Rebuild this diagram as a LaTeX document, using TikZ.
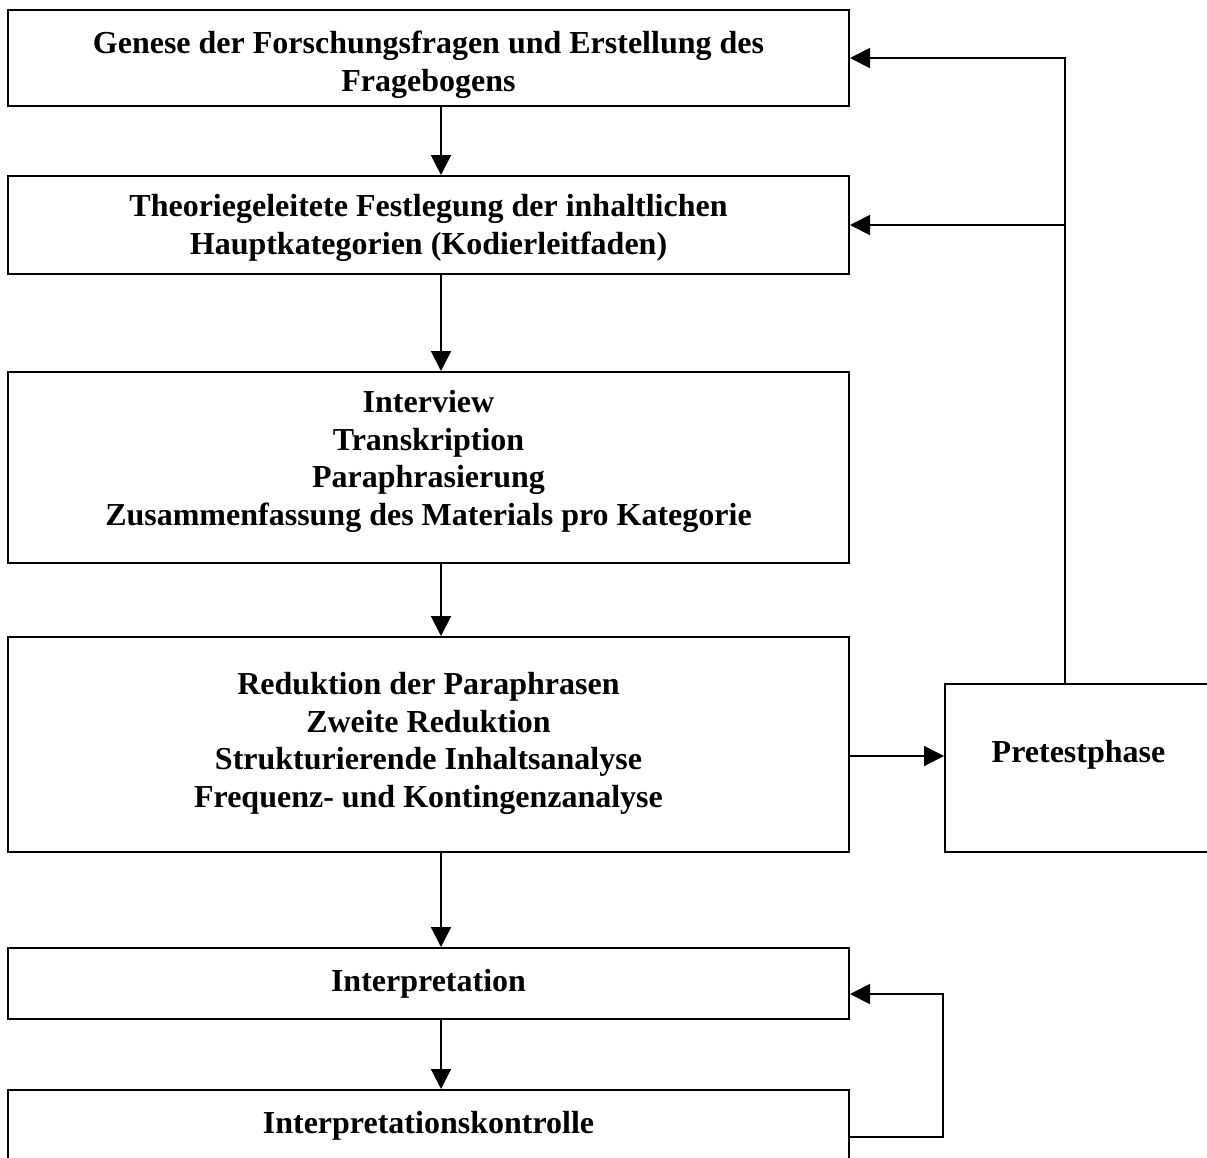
\documentclass[tikz,border=0pt]{standalone}
\usepackage{fontspec}
\setmainfont{Liberation Serif}
\usetikzlibrary{arrows.meta}
\tikzset{
  box/.style={draw=black, line width=2pt, rectangle, inner sep=0pt, align=center,
    font=\fontsize{32}{37.5}\selectfont\bfseries},
  arr/.style={draw=black, line width=2pt, -{Triangle[length=20pt,width=20pt]}}
}
\newcommand{\shifttxt}[2]{\raisebox{#1}[\height][\depth]{#2}}
\begin{document}
\begin{tikzpicture}[x=1pt,y=-1pt]
\clip (0,0) rectangle (1207,1157);
\fill[white] (0,0) rectangle (1207,1157);
\node[box, minimum width=841pt, minimum height=96pt] (b1) at (428.5,58)
  {\shifttxt{-7pt}{\begin{tabular}{@{}c@{}}Genese der Forschungsfragen und Erstellung des\\Fragebogens\end{tabular}}};
\node[box, minimum width=841pt, minimum height=98pt] (b2) at (428.5,225)
  {\shifttxt{-3pt}{\begin{tabular}{@{}c@{}}Theoriegeleitete Festlegung der inhaltlichen\\[1pt]Hauptkategorien (Kodierleitfaden)\end{tabular}}};
\node[box, minimum width=841pt, minimum height=191pt] (b3) at (428.5,467.5)
  {\shifttxt{6pt}{\begin{tabular}{@{}c@{}}Interview\\Transkription\\Paraphrasierung\\Zusammenfassung des Materials pro Kategorie\end{tabular}}};
\node[box, minimum width=841pt, minimum height=215pt] (b4) at (428.5,744.5)
  {\shifttxt{1pt}{\begin{tabular}{@{}c@{}}Reduktion der Paraphrasen\\Zweite Reduktion\\Strukturierende Inhaltsanalyse\\Frequenz- und Kontingenzanalyse\end{tabular}}};
\node[box, minimum width=267pt, minimum height=168pt] (pre) at (1078.5,768)
  {\shifttxt{13pt}{Pretestphase}};
\node[box, minimum width=841pt, minimum height=71pt] (b5) at (428.5,983.5)
  {Interpretation};
\node[box, minimum width=841pt, minimum height=72pt] (b6) at (428.5,1126)
  {Interpretationskontrolle};
\coordinate (ax) at (441,0);
\coordinate (fx) at (1065,0);
\coordinate (hy) at (0,756);
\coordinate (ky) at (943,1137);
\coordinate (iy) at (943,994);
\draw[arr] (b1.south -| ax) -- (b2.north -| ax);
\draw[arr] (b2.south -| ax) -- (b3.north -| ax);
\draw[arr] (b3.south -| ax) -- (b4.north -| ax);
\draw[arr] (b4.south -| ax) -- (b5.north -| ax);
\draw[arr] (b5.south -| ax) -- (b6.north -| ax);
\draw[arr] (b4.east |- hy) -- (pre.west |- hy);
\draw[arr] (pre.north -| fx) |- (b1.east);
\draw[arr] (fx |- b2.east) -- (b2.east);
\draw[arr] (b6.east |- ky) -- (ky) -- (iy) -- (b5.east |- iy);
\end{tikzpicture}
\end{document}
